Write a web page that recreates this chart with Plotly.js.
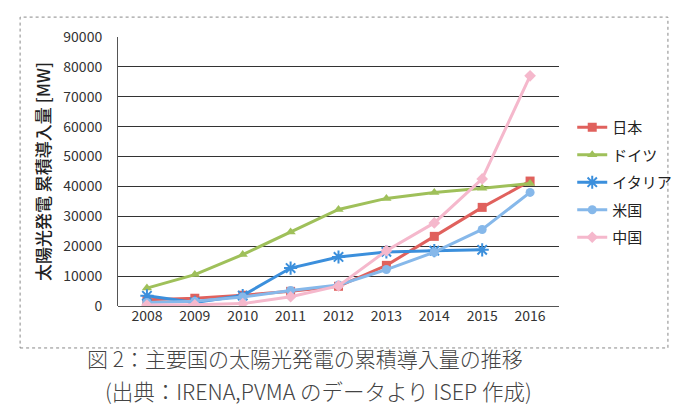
<!DOCTYPE html>
<html><head><meta charset="utf-8">
<script src="https://cdn.plot.ly/plotly-3.0.1.min.js"></script>
<style>html,body{margin:0;padding:0;background:#fff;}#chart{width:700px;height:419px;}</style>
</head><body><div id="chart"></div>
<script>
const years = ['2008','2009','2010','2011','2012','2013','2014','2015','2016'];
const japan   = [2100, 2600, 3600, 4900, 6600, 13600, 23300, 33000, 41800];
const germany = [6000, 10500, 17200, 24800, 32300, 36000, 38000, 39400, 41000];
const italy   = [3400, 1200, 3500, 12700, 16400, 18100, 18500, 18800, null];
const usa     = [1200, 1600, 3000, 5200, 7000, 12200, 18000, 25600, 38000];
const china   = [300, 400, 800, 3100, 6700, 18500, 27800, 42500, 77000];
const names = ['日本','ドイツ','イタリア','米国','中国'];
const colors = ['#e0615d','#9fc05a','#3b8fdc','#86b8ea','#f5b8cc'];
const symbols = ['square','triangle-up','asterisk-open','circle','diamond'];
const series = [japan, germany, italy, usa, china];
const font = "'Noto Sans CJK JP', 'Noto Sans', sans-serif";

const traces = series.map((s,i)=>({
  type:'scatter', mode:'lines+markers', x:years, y:s, name:names[i],
  legendgroup:'g'+i,
  line:{color:colors[i], width:3},
  marker:{symbol:symbols[i], size: i===2?11:9, color:colors[i], line:{color:colors[i], width: i===2?2:0}},
  connectgaps:false
}));

const layout = {
  width:700, height:419,
  margin:{l:118, r:141, t:37, b:113},
  paper_bgcolor:'#fff', plot_bgcolor:'#fff',
  font:{family:font, color:'#333'},
  showlegend:true,
  legend:{x:1.03, y:0.725, xanchor:'left', yanchor:'top', font:{size:15, color:'#222', family:font},
          tracegroupgap:5, traceorder:'grouped', bgcolor:'rgba(0,0,0,0)', itemwidth:30},
  xaxis:{type:'category', showgrid:false, zeroline:false, showline:false, ticks:'',
         tickfont:{size:14, color:'#333', family:font}, fixedrange:true},
  yaxis:{range:[0,90000], dtick:10000, tickformat:'d', showgrid:true, gridcolor:'#333', gridwidth:1,
         zeroline:true, zerolinecolor:'#555', zerolinewidth:1,
         showline:true, linecolor:'#555', linewidth:1,
         tickfont:{size:14, color:'#333', family:font}, ticklabelstandoff:12,
         title:{text:'太陽光発電 累積導入量 [MW]', font:{size:17, color:'#222', family:font, weight:500}, standoff:8}},
  shapes:[
    {type:'rect', xref:'paper', yref:'paper', x0:-0.222, x1:1.247, y0:-0.156, y1:1.074,
     line:{color:'#888', width:1, dash:'dot'}, fillcolor:'rgba(0,0,0,0)', layer:'below'}
  ],
  annotations:[
    {xref:'paper', yref:'paper', x:0.425, y:-0.195, xanchor:'center', yanchor:'middle', showarrow:false,
     text:'図 2：主要国の太陽光発電の累積導入量の推移', font:{size:21, color:'#444', family:font, weight:300}},
    {xref:'paper', yref:'paper', x:0.455, y:-0.315, xanchor:'center', yanchor:'middle', showarrow:false,
     text:'(出典：IRENA,PVMA のデータより ISEP 作成)', font:{size:21.5, color:'#444', family:font, weight:300}}
  ]
};
Plotly.newPlot('chart', traces, layout, {displayModeBar:false, staticPlot:true});
</script></body></html>
